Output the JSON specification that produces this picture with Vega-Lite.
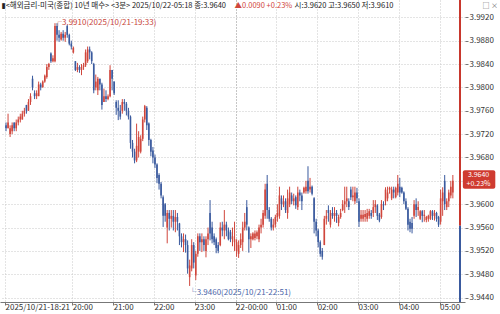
{
"$schema":"https://vega.github.io/schema/vega-lite/v6.json",
"width":465,"height":302,
"autosize":"none",
"padding":{"left":0,"top":0,"right":35,"bottom":12},
"background":"#ffffff",
"config":{"font":"Liberation Sans Narrow, Noto Sans CJK KR, DejaVu Sans, sans-serif","view":{"stroke":null}},
"datasets":{
"ohlc":[
{"i":0,"o":3.9735,"h":3.974,"l":3.9725,"c":3.973},
{"i":1,"o":3.973,"h":3.9755,"l":3.973,"c":3.974},
{"i":2,"o":3.972,"h":3.9735,"l":3.9715,"c":3.973},
{"i":3,"o":3.9725,"h":3.974,"l":3.972,"c":3.9735},
{"i":4,"o":3.974,"h":3.974,"l":3.9725,"c":3.973},
{"i":5,"o":3.973,"h":3.9745,"l":3.9725,"c":3.974},
{"i":6,"o":3.974,"h":3.975,"l":3.9735,"c":3.9745},
{"i":7,"o":3.9745,"h":3.9755,"l":3.974,"c":3.975},
{"i":8,"o":3.9745,"h":3.976,"l":3.9745,"c":3.9755},
{"i":9,"o":3.9755,"h":3.9765,"l":3.975,"c":3.976},
{"i":10,"o":3.977,"h":3.977,"l":3.9755,"c":3.976},
{"i":11,"o":3.976,"h":3.978,"l":3.976,"c":3.9775},
{"i":12,"o":3.9775,"h":3.979,"l":3.977,"c":3.9785},
{"i":13,"o":3.9815,"h":3.982,"l":3.9795,"c":3.98},
{"i":14,"o":3.979,"h":3.9795,"l":3.978,"c":3.9785},
{"i":15,"o":3.9785,"h":3.9795,"l":3.978,"c":3.979},
{"i":16,"o":3.9785,"h":3.981,"l":3.9785,"c":3.9805},
{"i":17,"o":3.9805,"h":3.9808,"l":3.9795,"c":3.98},
{"i":18,"o":3.98,"h":3.9812,"l":3.98,"c":3.981},
{"i":19,"o":3.981,"h":3.9822,"l":3.9808,"c":3.982},
{"i":20,"o":3.9818,"h":3.984,"l":3.9815,"c":3.9835},
{"i":21,"o":3.9835,"h":3.9842,"l":3.983,"c":3.984},
{"i":22,"o":3.9858,"h":3.986,"l":3.9842,"c":3.9845},
{"i":23,"o":3.9845,"h":3.9855,"l":3.9843,"c":3.985},
{"i":24,"o":3.9845,"h":3.991,"l":3.9843,"c":3.9905},
{"i":25,"o":3.9905,"h":3.991,"l":3.988,"c":3.989},
{"i":26,"o":3.989,"h":3.9898,"l":3.9878,"c":3.9885},
{"i":27,"o":3.9882,"h":3.9895,"l":3.988,"c":3.9892},
{"i":28,"o":3.9892,"h":3.9898,"l":3.988,"c":3.9885},
{"i":29,"o":3.9885,"h":3.9895,"l":3.9878,"c":3.989},
{"i":30,"o":3.9905,"h":3.9907,"l":3.9885,"c":3.989},
{"i":31,"o":3.989,"h":3.9892,"l":3.9872,"c":3.9875},
{"i":32,"o":3.9875,"h":3.988,"l":3.9865,"c":3.987},
{"i":33,"o":3.986,"h":3.987,"l":3.9858,"c":3.9868},
{"i":34,"o":3.9845,"h":3.9845,"l":3.9828,"c":3.983},
{"i":35,"o":3.983,"h":3.9842,"l":3.9826,"c":3.9835},
{"i":36,"o":3.9835,"h":3.9838,"l":3.9825,"c":3.983},
{"i":37,"o":3.983,"h":3.984,"l":3.9821,"c":3.9835},
{"i":38,"o":3.9835,"h":3.9842,"l":3.983,"c":3.9838},
{"i":39,"o":3.9838,"h":3.9865,"l":3.9835,"c":3.986},
{"i":40,"o":3.9845,"h":3.987,"l":3.9842,"c":3.9865},
{"i":41,"o":3.9865,"h":3.987,"l":3.9848,"c":3.986},
{"i":42,"o":3.986,"h":3.9862,"l":3.984,"c":3.9845},
{"i":43,"o":3.984,"h":3.9842,"l":3.979,"c":3.9795},
{"i":44,"o":3.98,"h":3.9822,"l":3.9795,"c":3.981},
{"i":45,"o":3.9795,"h":3.9818,"l":3.9787,"c":3.9815},
{"i":46,"o":3.9815,"h":3.9815,"l":3.9795,"c":3.9805},
{"i":47,"o":3.9805,"h":3.9808,"l":3.9762,"c":3.977},
{"i":48,"o":3.9775,"h":3.9798,"l":3.9775,"c":3.9785},
{"i":49,"o":3.9785,"h":3.9795,"l":3.9775,"c":3.978},
{"i":50,"o":3.978,"h":3.9788,"l":3.9778,"c":3.9785},
{"i":51,"o":3.9785,"h":3.9838,"l":3.9783,"c":3.983},
{"i":52,"o":3.983,"h":3.983,"l":3.9795,"c":3.9815},
{"i":53,"o":3.981,"h":3.981,"l":3.9787,"c":3.979},
{"i":54,"o":3.9775,"h":3.9778,"l":3.9753,"c":3.9765},
{"i":55,"o":3.9765,"h":3.9778,"l":3.9744,"c":3.976},
{"i":56,"o":3.976,"h":3.977,"l":3.9745,"c":3.975},
{"i":57,"o":3.976,"h":3.978,"l":3.9755,"c":3.9775},
{"i":58,"o":3.9775,"h":3.978,"l":3.976,"c":3.9772},
{"i":59,"o":3.9772,"h":3.9775,"l":3.9752,"c":3.976},
{"i":60,"o":3.976,"h":3.9765,"l":3.9745,"c":3.975},
{"i":61,"o":3.975,"h":3.9752,"l":3.9695,"c":3.9705},
{"i":62,"o":3.9705,"h":3.971,"l":3.968,"c":3.969},
{"i":63,"o":3.969,"h":3.9695,"l":3.967,"c":3.9675},
{"i":64,"o":3.9675,"h":3.9738,"l":3.9672,"c":3.97},
{"i":65,"o":3.969,"h":3.9725,"l":3.968,"c":3.9715},
{"i":66,"o":3.969,"h":3.9718,"l":3.9687,"c":3.9712},
{"i":67,"o":3.9712,"h":3.975,"l":3.9708,"c":3.9745},
{"i":68,"o":3.9745,"h":3.977,"l":3.974,"c":3.9768},
{"i":69,"o":3.9765,"h":3.9768,"l":3.9727,"c":3.9735},
{"i":70,"o":3.9738,"h":3.974,"l":3.97,"c":3.971},
{"i":71,"o":3.971,"h":3.9712,"l":3.9682,"c":3.969},
{"i":72,"o":3.9692,"h":3.9698,"l":3.967,"c":3.968},
{"i":73,"o":3.968,"h":3.9685,"l":3.9662,"c":3.9668},
{"i":74,"o":3.9668,"h":3.967,"l":3.9636,"c":3.9645},
{"i":75,"o":3.965,"h":3.9653,"l":3.9625,"c":3.9635},
{"i":76,"o":3.9635,"h":3.9638,"l":3.961,"c":3.9615},
{"i":77,"o":3.9612,"h":3.9615,"l":3.9561,"c":3.958},
{"i":78,"o":3.96,"h":3.9602,"l":3.957,"c":3.958},
{"i":79,"o":3.956,"h":3.959,"l":3.9533,"c":3.9585},
{"i":80,"o":3.9585,"h":3.959,"l":3.9555,"c":3.9575},
{"i":81,"o":3.9575,"h":3.959,"l":3.956,"c":3.958},
{"i":82,"o":3.958,"h":3.959,"l":3.9555,"c":3.957},
{"i":83,"o":3.957,"h":3.959,"l":3.9552,"c":3.9578},
{"i":84,"o":3.9578,"h":3.9585,"l":3.9555,"c":3.957},
{"i":85,"o":3.9567,"h":3.9568,"l":3.953,"c":3.9545},
{"i":86,"o":3.9545,"h":3.955,"l":3.9526,"c":3.9535},
{"i":87,"o":3.9535,"h":3.955,"l":3.9518,"c":3.954},
{"i":88,"o":3.954,"h":3.9548,"l":3.9517,"c":3.953},
{"i":89,"o":3.953,"h":3.9538,"l":3.9481,"c":3.949},
{"i":90,"o":3.9475,"h":3.9505,"l":3.946,"c":3.9495},
{"i":91,"o":3.949,"h":3.954,"l":3.9485,"c":3.953},
{"i":92,"o":3.953,"h":3.9535,"l":3.949,"c":3.95},
{"i":93,"o":3.9478,"h":3.952,"l":3.947,"c":3.9515},
{"i":94,"o":3.9515,"h":3.955,"l":3.951,"c":3.9545},
{"i":95,"o":3.9545,"h":3.955,"l":3.952,"c":3.9535},
{"i":96,"o":3.9535,"h":3.955,"l":3.9518,"c":3.954},
{"i":97,"o":3.954,"h":3.9545,"l":3.952,"c":3.953},
{"i":98,"o":3.952,"h":3.9545,"l":3.9509,"c":3.954},
{"i":99,"o":3.954,"h":3.956,"l":3.953,"c":3.955},
{"i":100,"o":3.9585,"h":3.9607,"l":3.9538,"c":3.955},
{"i":101,"o":3.956,"h":3.957,"l":3.9533,"c":3.954},
{"i":102,"o":3.9545,"h":3.955,"l":3.953,"c":3.9535},
{"i":103,"o":3.954,"h":3.9543,"l":3.9516,"c":3.9525},
{"i":104,"o":3.953,"h":3.9535,"l":3.9516,"c":3.952},
{"i":105,"o":3.953,"h":3.9569,"l":3.9528,"c":3.956},
{"i":106,"o":3.956,"h":3.957,"l":3.9545,"c":3.9555},
{"i":107,"o":3.9555,"h":3.959,"l":3.954,"c":3.9565},
{"i":108,"o":3.9565,"h":3.957,"l":3.9545,"c":3.9555},
{"i":109,"o":3.9555,"h":3.956,"l":3.9538,"c":3.954},
{"i":110,"o":3.9552,"h":3.9556,"l":3.9535,"c":3.954},
{"i":111,"o":3.954,"h":3.956,"l":3.9528,"c":3.9545},
{"i":112,"o":3.9535,"h":3.957,"l":3.952,"c":3.954},
{"i":113,"o":3.952,"h":3.954,"l":3.951,"c":3.9535},
{"i":114,"o":3.9515,"h":3.9538,"l":3.9508,"c":3.953},
{"i":115,"o":3.953,"h":3.955,"l":3.9525,"c":3.954},
{"i":116,"o":3.9535,"h":3.957,"l":3.952,"c":3.956},
{"i":117,"o":3.956,"h":3.9585,"l":3.9555,"c":3.957},
{"i":118,"o":3.9595,"h":3.9607,"l":3.9555,"c":3.9565},
{"i":119,"o":3.956,"h":3.9562,"l":3.9517,"c":3.954},
{"i":120,"o":3.954,"h":3.955,"l":3.9525,"c":3.9545},
{"i":121,"o":3.954,"h":3.9552,"l":3.9538,"c":3.955},
{"i":122,"o":3.9542,"h":3.9555,"l":3.9538,"c":3.955},
{"i":123,"o":3.9545,"h":3.9555,"l":3.954,"c":3.9552},
{"i":124,"o":3.954,"h":3.9565,"l":3.9535,"c":3.956},
{"i":125,"o":3.956,"h":3.9575,"l":3.955,"c":3.9565},
{"i":126,"o":3.9565,"h":3.959,"l":3.956,"c":3.9585},
{"i":127,"o":3.958,"h":3.9635,"l":3.9575,"c":3.9625},
{"i":128,"o":3.9635,"h":3.965,"l":3.9575,"c":3.959},
{"i":129,"o":3.959,"h":3.9595,"l":3.957,"c":3.9575},
{"i":130,"o":3.9575,"h":3.9578,"l":3.9555,"c":3.956},
{"i":131,"o":3.956,"h":3.9575,"l":3.9555,"c":3.9565},
{"i":132,"o":3.9565,"h":3.9582,"l":3.956,"c":3.9578},
{"i":133,"o":3.9578,"h":3.96,"l":3.957,"c":3.9585},
{"i":134,"o":3.958,"h":3.963,"l":3.9575,"c":3.9615},
{"i":135,"o":3.961,"h":3.9615,"l":3.959,"c":3.96},
{"i":136,"o":3.96,"h":3.9615,"l":3.9595,"c":3.9605},
{"i":137,"o":3.9605,"h":3.961,"l":3.9585,"c":3.959},
{"i":138,"o":3.9585,"h":3.9625,"l":3.9575,"c":3.961},
{"i":139,"o":3.96,"h":3.963,"l":3.9595,"c":3.962},
{"i":140,"o":3.9615,"h":3.962,"l":3.96,"c":3.9605},
{"i":141,"o":3.9605,"h":3.9618,"l":3.9598,"c":3.961},
{"i":142,"o":3.9612,"h":3.9615,"l":3.9592,"c":3.9598},
{"i":143,"o":3.9595,"h":3.963,"l":3.959,"c":3.962},
{"i":144,"o":3.962,"h":3.9625,"l":3.9605,"c":3.9615},
{"i":145,"o":3.9615,"h":3.962,"l":3.959,"c":3.9605},
{"i":146,"o":3.962,"h":3.963,"l":3.9618,"c":3.9628},
{"i":147,"o":3.9622,"h":3.964,"l":3.9618,"c":3.963},
{"i":148,"o":3.964,"h":3.9665,"l":3.9618,"c":3.9622},
{"i":149,"o":3.9625,"h":3.9645,"l":3.962,"c":3.963},
{"i":150,"o":3.963,"h":3.9632,"l":3.9615,"c":3.9618},
{"i":151,"o":3.961,"h":3.9612,"l":3.955,"c":3.957},
{"i":152,"o":3.957,"h":3.9575,"l":3.9545,"c":3.9555},
{"i":153,"o":3.9555,"h":3.9558,"l":3.9526,"c":3.9535},
{"i":154,"o":3.9535,"h":3.9538,"l":3.951,"c":3.9515},
{"i":155,"o":3.952,"h":3.9525,"l":3.9505,"c":3.951},
{"i":156,"o":3.953,"h":3.958,"l":3.953,"c":3.9575},
{"i":157,"o":3.9575,"h":3.959,"l":3.9565,"c":3.958},
{"i":158,"o":3.959,"h":3.9598,"l":3.957,"c":3.9585},
{"i":159,"o":3.9565,"h":3.959,"l":3.956,"c":3.9585},
{"i":160,"o":3.9585,"h":3.9595,"l":3.9575,"c":3.958},
{"i":161,"o":3.958,"h":3.9595,"l":3.957,"c":3.9585},
{"i":162,"o":3.9585,"h":3.959,"l":3.9568,"c":3.958},
{"i":163,"o":3.9568,"h":3.9582,"l":3.9562,"c":3.9578},
{"i":164,"o":3.9578,"h":3.9592,"l":3.9575,"c":3.9585},
{"i":165,"o":3.959,"h":3.9607,"l":3.9588,"c":3.96},
{"i":166,"o":3.96,"h":3.963,"l":3.9585,"c":3.9605},
{"i":167,"o":3.9605,"h":3.963,"l":3.9595,"c":3.961},
{"i":168,"o":3.9605,"h":3.961,"l":3.959,"c":3.9595},
{"i":169,"o":3.9625,"h":3.963,"l":3.9607,"c":3.9612},
{"i":170,"o":3.9612,"h":3.963,"l":3.9605,"c":3.9615},
{"i":171,"o":3.9605,"h":3.963,"l":3.96,"c":3.962},
{"i":172,"o":3.962,"h":3.9628,"l":3.9602,"c":3.961},
{"i":173,"o":3.9605,"h":3.961,"l":3.9561,"c":3.957},
{"i":174,"o":3.9575,"h":3.959,"l":3.957,"c":3.9582},
{"i":175,"o":3.9575,"h":3.959,"l":3.957,"c":3.9582},
{"i":176,"o":3.9578,"h":3.959,"l":3.957,"c":3.9583},
{"i":177,"o":3.9575,"h":3.9592,"l":3.957,"c":3.9585},
{"i":178,"o":3.958,"h":3.9592,"l":3.9575,"c":3.9588},
{"i":179,"o":3.9585,"h":3.959,"l":3.9575,"c":3.958},
{"i":180,"o":3.9585,"h":3.9607,"l":3.9578,"c":3.9595},
{"i":181,"o":3.9595,"h":3.9607,"l":3.9585,"c":3.96},
{"i":182,"o":3.9598,"h":3.96,"l":3.9573,"c":3.958},
{"i":183,"o":3.9582,"h":3.9585,"l":3.9569,"c":3.9572},
{"i":184,"o":3.9578,"h":3.9607,"l":3.9575,"c":3.96},
{"i":185,"o":3.96,"h":3.9605,"l":3.959,"c":3.9598},
{"i":186,"o":3.9605,"h":3.9629,"l":3.9598,"c":3.9625},
{"i":187,"o":3.961,"h":3.963,"l":3.9605,"c":3.962},
{"i":188,"o":3.9625,"h":3.963,"l":3.9618,"c":3.9628},
{"i":189,"o":3.961,"h":3.963,"l":3.9607,"c":3.9625},
{"i":190,"o":3.9625,"h":3.963,"l":3.961,"c":3.962},
{"i":191,"o":3.9612,"h":3.963,"l":3.961,"c":3.9628},
{"i":192,"o":3.962,"h":3.965,"l":3.9615,"c":3.9635},
{"i":193,"o":3.963,"h":3.9645,"l":3.9612,"c":3.962},
{"i":194,"o":3.9628,"h":3.963,"l":3.9618,"c":3.962},
{"i":195,"o":3.962,"h":3.9622,"l":3.96,"c":3.9605},
{"i":196,"o":3.9605,"h":3.961,"l":3.959,"c":3.9592},
{"i":197,"o":3.9592,"h":3.9595,"l":3.9555,"c":3.9565},
{"i":198,"o":3.957,"h":3.9575,"l":3.9552,"c":3.9558},
{"i":199,"o":3.9568,"h":3.9578,"l":3.955,"c":3.9558},
{"i":200,"o":3.958,"h":3.9607,"l":3.9575,"c":3.96},
{"i":201,"o":3.96,"h":3.961,"l":3.9578,"c":3.959},
{"i":202,"o":3.959,"h":3.9605,"l":3.958,"c":3.9595},
{"i":203,"o":3.9575,"h":3.959,"l":3.9573,"c":3.9588},
{"i":204,"o":3.9588,"h":3.959,"l":3.9569,"c":3.958},
{"i":205,"o":3.958,"h":3.959,"l":3.957,"c":3.9582},
{"i":206,"o":3.9573,"h":3.958,"l":3.9569,"c":3.9578},
{"i":207,"o":3.9575,"h":3.9582,"l":3.957,"c":3.958},
{"i":208,"o":3.9575,"h":3.959,"l":3.9573,"c":3.9588},
{"i":209,"o":3.9588,"h":3.959,"l":3.9573,"c":3.958},
{"i":210,"o":3.958,"h":3.959,"l":3.9572,"c":3.9585},
{"i":211,"o":3.9585,"h":3.9587,"l":3.957,"c":3.9575},
{"i":212,"o":3.9578,"h":3.958,"l":3.9561,"c":3.9565},
{"i":213,"o":3.957,"h":3.9625,"l":3.9565,"c":3.961},
{"i":214,"o":3.9605,"h":3.9629,"l":3.958,"c":3.962},
{"i":215,"o":3.964,"h":3.965,"l":3.959,"c":3.96},
{"i":216,"o":3.9595,"h":3.961,"l":3.959,"c":3.9605},
{"i":217,"o":3.9605,"h":3.9625,"l":3.9595,"c":3.962},
{"i":218,"o":3.9615,"h":3.964,"l":3.961,"c":3.963},
{"i":219,"o":3.962,"h":3.965,"l":3.961,"c":3.964}
],
"notes":[
{"i":24,"v":3.991,"kind":"high","label":"┌3.9910(2025/10/21-19:33)"},
{"i":90,"v":3.946,"kind":"low","label":"└3.9460(2025/10/21-22:51)"}
]
},
"layer":[
{"data":{"name":"ohlc"},
 "mark":{"type":"rule","strokeWidth":1},
 "encoding":{
  "x":{"field":"i","type":"quantitative","scale":{"domain":[-0.5,222.5],"nice":false,"zero":false},
   "axis":{"orient":"bottom","values":[-0.5,32.5,52.5,72.5,92.5,112.5,132.5,152.5,172.5,192.5,212.5],
    "labelExpr":"datum.value < 0 ? '2025/10/21-18:21' : datum.value == 112.5 ? '22-00:00' : ((((datum.value-32.5)/20+20)%24) < 10 ? '0' : '') + (((datum.value-32.5)/20+20)%24) + ':00'",
    "labelAlign":"left","labelBaseline":"top","labelFontSize":8,"labelColor":"#333333","labelPadding":-2,"labelOverlap":false,"labelFlush":false,"labelBound":false,
    "tickSize":3,"tickColor":"#777777","domainColor":"#777777","grid":true,"gridDash":[1,2],
    "gridColor":{"condition":{"test":"datum.value == 112.5","value":"#8c8c8c"},"value":"#c8c8c8"},
    "title":"□ ×","titleX":482,"titleY":-297,"titleAlign":"left","titleBaseline":"middle","titleFontSize":7,"titleFontWeight":"normal","titleColor":"#666666"}},
  "y":{"field":"l","type":"quantitative","scale":{"domain":[3.94325,3.99497],"nice":false,"zero":false},
   "axis":{"orient":"right","values":[3.944,3.948,3.952,3.956,3.96,3.964,3.968,3.972,3.976,3.98,3.984,3.988,3.992],
    "labelExpr":"abs(datum.value-3.964) < 0.000001 ? '' : format(datum.value, '.4f')",
    "labelFontSize":8,"labelColor":"#333333","labelPadding":1,"tickSize":3,"tickColor":"#777777","domain":false,
    "grid":true,"gridDash":[1,2],"gridColor":"#c8c8c8",
    "title":"▮<해외금리-미국(종합) 10년 매수> <3분> 2025/10/22-05:18 종:3.9640","titleX":-464,"titleY":5,"titleAngle":0,"titleAlign":"left","titleBaseline":"middle","titleFontSize":7.5,"titleFontWeight":"normal","titleColor":"#222222"}},
  "y2":{"field":"h"},
  "color":{"condition":{"test":"datum.c >= datum.o","value":"#d0463c"},"value":"#3a5a9e"}
 }},
{"data":{"name":"ohlc"},
 "mark":{"type":"bar","size":1.6},
 "encoding":{
  "x":{"field":"i","type":"quantitative","axis":null},
  "y":{"field":"o","type":"quantitative","axis":null},
  "y2":{"field":"c"},
  "color":{"condition":{"test":"datum.c >= datum.o","value":"#d0463c"},"value":"#3a5a9e"}
 }},
{"data":{"name":"notes"},
 "transform":[{"filter":"datum.kind == 'high'"}],
 "mark":{"type":"text","align":"left","baseline":"middle","fontSize":8,"color":"#c8463c","dx":-1},
 "encoding":{
  "x":{"field":"i","type":"quantitative",
   "axis":{"orient":"top","labels":false,"ticks":false,"domain":false,"grid":false,"title":"▲0.0090 +0.23%","titleX":234,"titleY":5,"titleAlign":"left","titleBaseline":"middle","titleFontSize":7.5,"titleFontWeight":"normal","titleColor":"#d0463c"}},
  "y":{"field":"v","type":"quantitative",
   "axis":{"orient":"left","labels":false,"ticks":false,"domain":false,"grid":false,"title":"시:3.9620 고:3.9650 저:3.9610","titleX":294,"titleY":5,"titleAngle":0,"titleAlign":"left","titleBaseline":"middle","titleFontSize":7.5,"titleFontWeight":"normal","titleColor":"#222222"}},
  "text":{"field":"label"}
 }},
{"data":{"name":"notes"},
 "transform":[{"filter":"datum.kind == 'low'"}],
 "mark":{"type":"text","align":"left","baseline":"middle","fontSize":8,"color":"#4a64a8","dx":-1,"dy":7},
 "encoding":{
  "x":{"field":"i","type":"quantitative","axis":null},
  "y":{"field":"v","type":"quantitative","axis":null},
  "text":{"field":"label"}
 }},
{"data":{"values":[{}]},
 "mark":{"type":"rule","strokeWidth":2,"color":"#c8372d"},
 "encoding":{"x":{"datum":222.5,"type":"quantitative","axis":null},"y":{"datum":3.99497,"type":"quantitative","axis":null},"y2":{"datum":3.9563}}},
{"data":{"values":[{}]},
 "mark":{"type":"rule","strokeWidth":2,"color":"#3a5a9e"},
 "encoding":{"x":{"datum":222.5,"type":"quantitative","axis":null},"y":{"datum":3.9563,"type":"quantitative","axis":null},"y2":{"datum":3.94325}}},
{"data":{"values":[{}]},
 "mark":{"type":"rect","color":"#cf3b30","cornerRadius":2},
 "encoding":{"x":{"datum":223.9,"type":"quantitative","axis":null},"x2":{"datum":239.8},"y":{"datum":3.96583,"type":"quantitative","axis":null},"y2":{"datum":3.96266}}},
{"data":{"values":[{}]},
 "mark":{"type":"text","align":"center","baseline":"middle","fontSize":7,"color":"#ffffff"},
 "encoding":{"x":{"datum":231.6,"type":"quantitative","axis":null},"y":{"datum":3.96506,"type":"quantitative","axis":null},"text":{"value":"3.9640"}}},
{"data":{"values":[{}]},
 "mark":{"type":"text","align":"center","baseline":"middle","fontSize":7,"color":"#ffffff"},
 "encoding":{"x":{"datum":231.6,"type":"quantitative","axis":null},"y":{"datum":3.96351,"type":"quantitative","axis":null},"text":{"value":"+0.23%"}}}
],
"resolve":{"axis":{"x":"independent","y":"independent"}}
}
